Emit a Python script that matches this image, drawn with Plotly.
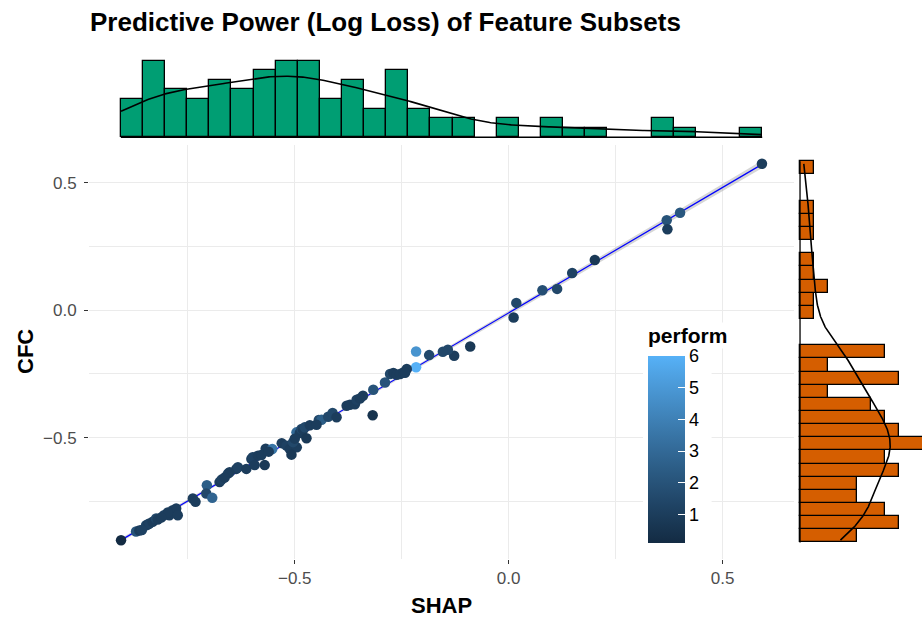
import numpy as np
import plotly.graph_objects as go

# ---------------- data ----------------
shap = [0.5922, 0.4008, 0.3696, 0.3712, 0.2015, 0.1486, 0.1134, 0.0790, 0.0180, 0.0117,
        -0.0898, -0.1273, -0.1420, -0.1537, -0.1858, -0.2163, -0.2163, -0.2381,
        -0.2890, -0.2772, -0.2695, -0.2615, -0.2538, -0.2461, -0.2421,
        -0.3405, -0.3164,
        -0.3787, -0.3710, -0.3593, -0.3553, -0.3476,
        -0.4437, -0.4373, -0.4218, -0.4115, -0.4022, -0.3178,
        -0.4959, -0.4882, -0.4842, -0.4804, -0.4765, -0.4647, -0.4490,
        -0.5679, -0.5526, -0.5304, -0.5193, -0.5116, -0.4952, -0.5039, -0.4999, -0.4725,
        -0.6014, -0.5983, -0.5859, -0.5779, -0.5076, -0.5608,
        -0.6562, -0.6522, -0.6365, -0.6328, -0.6131, -0.5936, -0.5702,
        -0.7054, -0.6757, -0.6710, -0.6639,
        -0.7382, -0.7319, -0.7068, -0.6928,
        -0.8057, -0.7928, -0.7851, -0.7771, -0.7734, -0.7968,
        -0.8475, -0.8437, -0.8397, -0.8320, -0.8240, -0.8203, -0.8123,
        -0.9060, -0.8709, -0.8632, -0.8573]

cfc = [0.5745, 0.3824, 0.3527, 0.3174, 0.1971, 0.1462, 0.0835, 0.0784, 0.0286, -0.0290,
       -0.1426, -0.1791, -0.1556, -0.1634, -0.1763, -0.1622, -0.2241, -0.2312,
       -0.2837, -0.2508, -0.2469, -0.2535, -0.2508, -0.2445, -0.2457,
       -0.3358, -0.3123,
       -0.3750, -0.3711, -0.3691, -0.3515, -0.3464,
       -0.4310, -0.4299, -0.4181, -0.4036, -0.4201, -0.4122,
       -0.4796, -0.4820, -0.4663, -0.4690, -0.4600, -0.4514, -0.4495,
       -0.5435, -0.5447, -0.5219, -0.5317, -0.5447, -0.5384, -0.5180, -0.5043, -0.5024,
       -0.5839, -0.5776, -0.5709, -0.5682, -0.5670, -0.5553,
       -0.6415, -0.6364, -0.6230, -0.6168, -0.6230, -0.6081, -0.6081,
       -0.6873, -0.6748, -0.6650, -0.6571,
       -0.7394, -0.7524, -0.7198, -0.7367,
       -0.8049, -0.8049, -0.7853, -0.7786, -0.8049, -0.7943,
       -0.8440, -0.8413, -0.8374, -0.8307, -0.8178, -0.8217, -0.8139,
       -0.9028, -0.8687, -0.8648, -0.8629]

perform = [1.0, 2.2, 2.0, 1.0, 0.8, 1.2, 1.5, 1.8, 1.5, 1.0,
           0.8, 1.0, 1.5, 1.5, 1.5, 4.8, 6.0, 1.0,
           2.0, 1.5, 1.0, 1.0, 1.0, 1.0, 1.0,
           1.0, 2.0,
           1.0, 1.0, 1.0, 1.2, 1.0,
           1.5, 2.5, 1.5, 1.5, 1.0, 0.5,
           3.0, 1.0, 1.5, 1.0, 1.5, 1.0, 1.0,
           1.0, 3.5, 1.0, 1.2, 1.0, 1.0, 1.5, 1.0, 0.8,
           1.0, 1.2, 1.0, 1.0, 0.8, 1.0,
           1.5, 1.0, 1.0, 1.2, 1.0, 1.0, 0.8,
           2.5, 1.0, 1.2, 1.0,
           1.0, 1.0, 1.5, 2.8,
           1.2, 1.0, 1.0, 1.0, 1.0, 1.0,
           1.5, 1.0, 1.2, 1.0, 1.5, 1.0, 1.0,
           0.1, 2.0, 1.0, 1.2]

title_text = "Predictive Power (Log Loss) of Feature Subsets"
x_title = "SHAP"
y_title = "CFC"
color_title = "perform"
x_tick_vals = [-0.5, 0.0, 0.5]
x_tick_text = ["\u22120.5", "0.0", "0.5"]
y_tick_vals = [-0.5, 0.0, 0.5]
y_tick_text = ["\u22120.5", "0.0", "0.5"]
minor_grid_x = [-0.75, -0.25, 0.25]
minor_grid_y = [-0.75, -0.25, 0.25]
cb_tick_vals = [1, 2, 3, 4, 5, 6]

# histogram binning (29 bins, as in the marginal plots)
X_BIN_START, X_BIN_SIZE = -0.9065, 0.0517
Y_BIN_START, Y_BIN_SIZE = -0.9118, 0.05161
N_BINS = 29

# ---------------- derived quantities ----------------
x = np.array(shap)
y = np.array(cfc)
p = np.array(perform)
n = len(x)
x_bin_end = X_BIN_START + N_BINS * X_BIN_SIZE
y_bin_end = Y_BIN_START + N_BINS * Y_BIN_SIZE


def kde(v, grid):
    sd = np.std(v, ddof=1)
    iqr = np.subtract(*np.percentile(v, [75, 25]))
    bw = 0.9 * min(sd, iqr / 1.34) * len(v) ** (-0.2)
    z = (grid[:, None] - v[None, :]) / bw
    return np.exp(-0.5 * z ** 2).sum(axis=1) / (len(v) * bw * np.sqrt(2 * np.pi))


gx = np.linspace(x.min(), x.max(), 512)
gy = np.linspace(y.min(), y.max(), 512)
kx = kde(x, gx)
ky = kde(y, gy)

# linear fit with 95% CI (like geom_smooth(method = "lm"))
b1, b0 = np.polyfit(x, y, 1)
xs = np.linspace(x.min(), x.max(), 80)
fit = b0 + b1 * xs
resid = y - (b0 + b1 * x)
s = np.sqrt(np.sum(resid ** 2) / (n - 2))
sxx = np.sum((x - x.mean()) ** 2)
se = s * np.sqrt(1 / n + (xs - x.mean()) ** 2 / sxx)
tq = 1.9867
upper, lower = fit + tq * se, fit - tq * se

# axis ranges with ggplot-like 5% expansion
xr = [x.min() - 0.05 * np.ptp(x), x.max() + 0.05 * np.ptp(x)]
yr = [y.min() - 0.05 * np.ptp(y), y.max() + 0.05 * np.ptp(y)]


# ggplot2 default continuous colour scale (Lab interpolation #132B43 -> #56B1F7)
M = np.array([[0.4124, 0.3576, 0.1805], [0.2126, 0.7152, 0.0722], [0.0193, 0.1192, 0.9505]])
WHITE = M @ np.ones(3)


def _lin(c):
    return np.where(c <= 0.04045, c / 12.92, ((c + 0.055) / 1.055) ** 2.4)


def _delin(c):
    c = np.clip(c, 0, 1)
    return np.where(c <= 0.0031308, 12.92 * c, 1.055 * c ** (1 / 2.4) - 0.055)


def _f(t):
    d = 6 / 29
    return np.where(t > d ** 3, np.cbrt(t), t / (3 * d * d) + 4 / 29)


def _finv(t):
    d = 6 / 29
    return np.where(t > d, t ** 3, 3 * d * d * (t - 4 / 29))


def hex2lab(h):
    rgb = np.array([int(h[i:i + 2], 16) for i in (1, 3, 5)]) / 255
    fx, fy, fz = _f(M @ _lin(rgb) / WHITE)
    return np.array([116 * fy - 16, 500 * (fx - fy), 200 * (fy - fz)])


def lab2hex(lab):
    L, a, b = lab
    fy = (L + 16) / 116
    xyz = _finv(np.array([fy + a / 500, fy, fy - b / 200])) * WHITE
    rgb = _delin(np.linalg.solve(M, xyz))
    return "#%02x%02x%02x" % tuple(int(round(v * 255)) for v in rgb)


lo, hi = hex2lab("#132B43"), hex2lab("#56B1F7")
colorscale = [[t, lab2hex(lo + (hi - lo) * t)] for t in np.linspace(0, 1, 11)]

# ---------------- layout geometry (pixels of a 922x618 canvas) ----------------
W, H = 922, 618


def px(v):
    return v / W


def py(v):
    return 1 - v / H


main_xdom = [px(89), px(794)]
main_ydom = [py(559), py(145)]
top_ydom = [py(140), py(55)]
right_xdom = [px(797), 1.0]

font_family = "Liberation Sans, Arial, Helvetica, sans-serif"

fig = go.Figure()

# confidence band + regression line
fig.add_trace(go.Scatter(x=np.concatenate([xs, xs[::-1]]), y=np.concatenate([upper, lower[::-1]]),
                         fill="toself", fillcolor="rgba(153,153,153,0.4)", line=dict(width=0),
                         hoverinfo="skip", xaxis="x", yaxis="y"))
fig.add_trace(go.Scatter(x=xs, y=fit, mode="lines", line=dict(color="#0000FF", width=1.2),
                         hoverinfo="skip", xaxis="x", yaxis="y"))

# scatter points
fig.add_trace(go.Scatter(
    x=x, y=y, mode="markers", xaxis="x", yaxis="y",
    marker=dict(size=10.5, color=p, colorscale=colorscale, cmin=p.min(), cmax=p.max(),
                line=dict(width=0),
                colorbar=dict(
                    tickvals=cb_tick_vals, ticks="inside", tickcolor="white", ticklen=7,
                    tickfont=dict(size=18, color="black", family=font_family),
                    thickness=37, lenmode="pixels", len=197,
                    x=px(643), xanchor="left", xpad=5,
                    y=py(548), yanchor="bottom", ypad=5,
                    bgcolor="white", outlinewidth=0,
                )),
))

# top marginal histogram + density
fig.add_trace(go.Scatter(x=[X_BIN_START, x_bin_end], y=[0, 0], mode="lines",
                         line=dict(color="black", width=1.3), xaxis="x2", yaxis="y2",
                         hoverinfo="skip"))
fig.add_trace(go.Histogram(
    x=x, xaxis="x2", yaxis="y2", histnorm="probability density",
    xbins=dict(start=X_BIN_START, end=x_bin_end, size=X_BIN_SIZE),
    marker=dict(color="#009E73", line=dict(color="black", width=1.3)),
))
fig.add_trace(go.Scatter(x=gx, y=kx, mode="lines", line=dict(color="black", width=1.6),
                         xaxis="x2", yaxis="y2", hoverinfo="skip"))

# right marginal histogram + density
fig.add_trace(go.Scatter(x=[0, 0], y=[Y_BIN_START, y_bin_end], mode="lines",
                         line=dict(color="black", width=1.3), xaxis="x3", yaxis="y3",
                         hoverinfo="skip"))
fig.add_trace(go.Histogram(
    y=y, xaxis="x3", yaxis="y3", histnorm="probability density",
    ybins=dict(start=Y_BIN_START, end=y_bin_end, size=Y_BIN_SIZE),
    marker=dict(color="#D55E00", line=dict(color="black", width=1.3)),
))
fig.add_trace(go.Scatter(x=ky, y=gy, mode="lines", line=dict(color="black", width=1.6),
                         xaxis="x3", yaxis="y3", hoverinfo="skip"))

tickfont = dict(size=17, color="#4D4D4D", family=font_family)
grid = dict(showgrid=True, gridcolor="#EBEBEB", gridwidth=1.1, zeroline=False, showline=False,
            ticks="outside", ticklen=4, tickcolor="#333333", tickwidth=1, tickfont=tickfont)

fig.update_layout(
    width=W, height=H, margin=dict(l=0, r=0, t=0, b=0),
    paper_bgcolor="white", plot_bgcolor="white", showlegend=False, bargap=0,
    font=dict(family=font_family),
    title=dict(text="<b>" + title_text + "</b>", x=px(90), xanchor="left", xref="paper",
               y=py(22), yanchor="middle", font=dict(size=26, color="black", family=font_family)),
    xaxis=dict(domain=main_xdom, range=xr, anchor="y", tickvals=x_tick_vals, ticktext=x_tick_text,
               minor=dict(tickvals=minor_grid_x, showgrid=True, gridcolor="#EBEBEB", gridwidth=0.6,
                          ticks=""),
               **grid),
    yaxis=dict(domain=main_ydom, range=yr, anchor="x", tickvals=y_tick_vals, ticktext=y_tick_text,
               ticklabelstandoff=4,
               minor=dict(tickvals=minor_grid_y, showgrid=True, gridcolor="#EBEBEB", gridwidth=0.6,
                          ticks=""),
               **grid),
    xaxis2=dict(domain=main_xdom, range=xr, anchor="y2", visible=False),
    yaxis2=dict(domain=top_ydom, range=[-0.06, 1.81], anchor="x2", visible=False),
    xaxis3=dict(domain=right_xdom, range=[-0.045, 1.813], anchor="y3", visible=False),
    yaxis3=dict(domain=main_ydom, range=yr, anchor="x3", visible=False),
    annotations=[
        dict(text="<b>" + x_title + "</b>", x=(main_xdom[0] + main_xdom[1]) / 2, y=py(605),
             xref="paper", yref="paper", showarrow=False, xanchor="center", yanchor="middle",
             font=dict(size=22, color="black", family=font_family)),
        dict(text="<b>" + y_title + "</b>", x=px(25), y=(main_ydom[0] + main_ydom[1]) / 2,
             xref="paper", yref="paper", showarrow=False, xanchor="center", yanchor="middle",
             textangle=-90, font=dict(size=22, color="black", family=font_family)),
        dict(text="<b>" + color_title + "</b>", x=px(646), y=py(335),
             xref="paper", yref="paper", showarrow=False, xanchor="left", yanchor="middle",
             bgcolor="white", font=dict(size=21, color="black", family=font_family)),
    ],
)

fig.write_html("out.html", config={"displayModeBar": False},
               post_script="document.body.style.margin='0px';")
